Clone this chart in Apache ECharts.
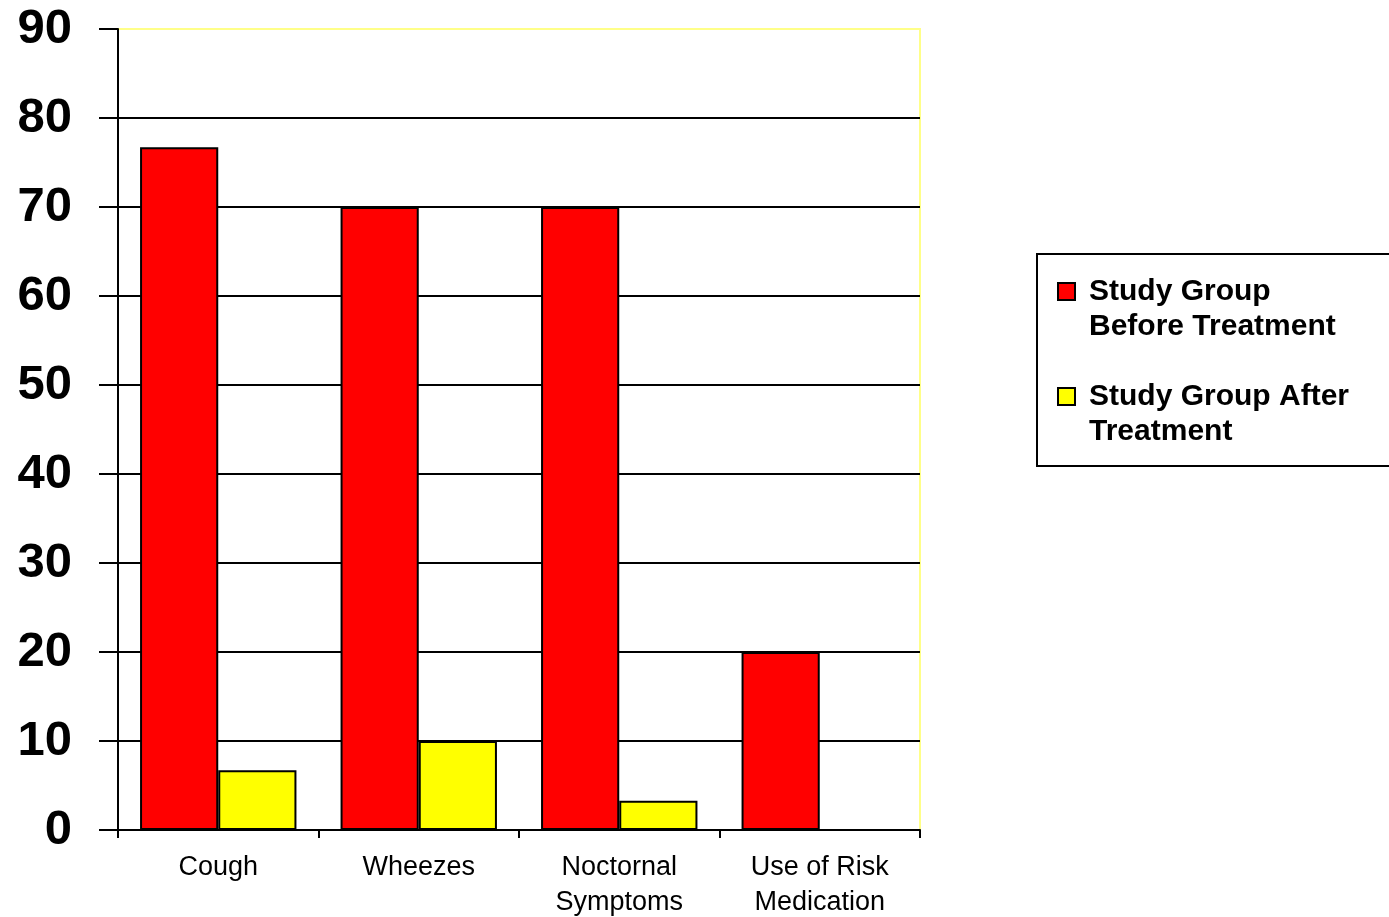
<!DOCTYPE html>
<html>
<head>
<meta charset="utf-8">
<script src="https://cdn.jsdelivr.net/npm/echarts@6/dist/echarts.min.js"></script>
<style>
html, body { margin: 0; padding: 0; background: #fff; }
#chart { width: 1389px; height: 917px; }
</style>
</head>
<body>
<div id="chart"></div>
<script>
var categories = ['Cough', 'Wheezes', 'Noctornal\nSymptoms', 'Use of Risk\nMedication'];
var seriesNames = ['Study Group\nBefore Treatment', 'Study Group After\nTreatment'];
var beforeValues = [76.7, 70, 70, 20];
var afterValues = [6.7, 10, 3.3, 0];

window.onload = function () {
    var myChart = echarts.init(document.getElementById('chart'));

    // split lines: black, except the top one which is the yellow frame
    var splitColors = ['#000', '#000', '#000', '#000', '#000', '#000', '#000', '#000', '#000', '#ffff88'];

    var option = {
        backgroundColor: '#fff',
        animation: false,
        grid: {
            left: 118,
            right: 469,
            top: 29,
            bottom: 87,
            outerBoundsMode: 'none',
            containLabel: false,
            show: true,
            borderColor: '#ffff88',
            borderWidth: 2
        },
        legend: {
            orient: 'vertical',
            left: 1037,
            top: 254,
            padding: [-15, 60, 17, 20],
            itemGap: 0,
            itemWidth: 17,
            itemHeight: 17,
            icon: 'rect',
            borderColor: '#000',
            borderWidth: 2,
            // blank first line so the marker lines up with the first text line
            formatter: function (name) {
                return '\n' + name;
            },
            textStyle: {
                fontFamily: 'Liberation Sans',
                fontWeight: 'bold',
                fontSize: 30,
                color: '#000',
                lineHeight: 35,
                padding: [0, 0, 0, 9]
            }
        },
        xAxis: {
            type: 'category',
            data: categories,
            boundaryGap: true,
            axisLine: { lineStyle: { color: '#000', width: 2 } },
            axisTick: { show: true, length: 8, lineStyle: { color: '#000', width: 2 } },
            axisLabel: {
                fontFamily: 'Liberation Sans',
                fontSize: 27,
                color: '#000',
                lineHeight: 35,
                margin: 20
            },
            splitLine: { show: false }
        },
        yAxis: {
            type: 'value',
            min: 0,
            max: 90,
            interval: 10,
            axisLine: { show: true, lineStyle: { color: '#000', width: 2 } },
            axisTick: { show: true, length: 19, lineStyle: { color: '#000', width: 2 } },
            axisLabel: {
                fontFamily: 'Liberation Sans',
                fontWeight: 'bold',
                fontSize: 49,
                color: '#000',
                margin: 46
            },
            splitLine: { show: true, lineStyle: { color: splitColors, width: 2 } }
        },
        series: [{
            name: seriesNames[0],
            type: 'bar',
            data: beforeValues,
            barGap: '0%',
            barCategoryGap: '22%',
            itemStyle: { color: '#ff0000', borderColor: '#000', borderWidth: 2 }
        }, {
            name: seriesNames[1],
            type: 'bar',
            data: afterValues,
            itemStyle: { color: '#ffff00', borderColor: '#000', borderWidth: 2 }
        }]
    };
    myChart.setOption(option);
};
</script>
</body>
</html>
